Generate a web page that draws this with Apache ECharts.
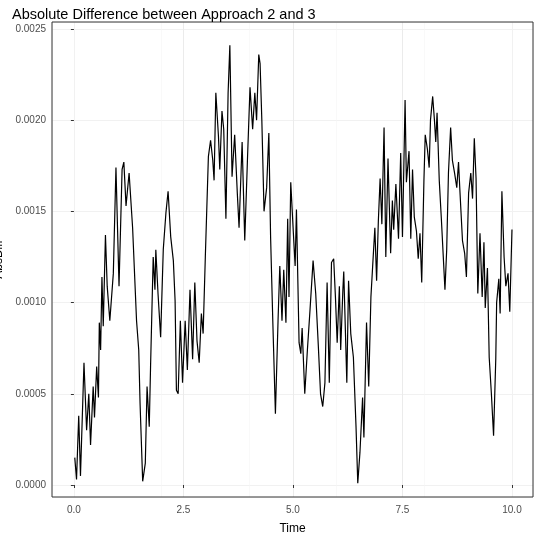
<!DOCTYPE html>
<html><head><meta charset="utf-8">
<script src="https://cdn.jsdelivr.net/npm/echarts@6/dist/echarts.min.js"></script>
<style>html,body{margin:0;padding:0;background:#fff}#c{width:540px;height:536px}</style>
</head><body><div id="c"></div>
<script>
const times = [0.02,0.06,0.11,0.15,0.23,0.29,0.34,0.38,0.44,0.47,0.52,0.56,0.58,0.61,0.64,0.67,0.72,0.76,0.82,0.9,0.96,1.03,1.1,1.14,1.19,1.26,1.34,1.43,1.48,1.51,1.57,1.63,1.67,1.72,1.75,1.81,1.85,1.87,1.92,1.98,2.04,2.1,2.15,2.21,2.27,2.31,2.34,2.38,2.43,2.48,2.54,2.59,2.65,2.71,2.76,2.81,2.86,2.91,2.95,3.0,3.07,3.12,3.17,3.2,3.24,3.3,3.33,3.38,3.42,3.47,3.52,3.56,3.61,3.67,3.73,3.77,3.84,3.9,3.96,4.02,4.08,4.13,4.17,4.22,4.25,4.29,4.34,4.4,4.45,4.49,4.54,4.6,4.66,4.7,4.75,4.79,4.84,4.88,4.91,4.95,5.01,5.05,5.08,5.14,5.18,5.21,5.27,5.33,5.39,5.46,5.52,5.58,5.63,5.68,5.73,5.78,5.83,5.88,5.93,5.97,6.01,6.06,6.09,6.14,6.16,6.23,6.27,6.32,6.38,6.44,6.48,6.53,6.59,6.62,6.68,6.73,6.78,6.82,6.87,6.91,6.95,6.99,7.03,7.08,7.12,7.17,7.23,7.27,7.3,7.35,7.41,7.46,7.5,7.53,7.56,7.59,7.65,7.69,7.73,7.77,7.82,7.86,7.9,7.94,7.99,8.02,8.07,8.11,8.14,8.19,8.23,8.26,8.29,8.34,8.39,8.43,8.47,8.51,8.55,8.6,8.64,8.69,8.74,8.78,8.81,8.87,8.92,8.96,9.01,9.06,9.1,9.14,9.18,9.22,9.27,9.32,9.36,9.39,9.44,9.48,9.53,9.58,9.63,9.65,9.7,9.73,9.77,9.82,9.86,9.91,9.95,10.0];
const absDiff = [0.00015,0.00003,0.00038,0.00005,0.00067,0.0003,0.0005,0.00022,0.00054,0.00037,0.00065,0.00048,0.00089,0.00074,0.00114,0.00087,0.00137,0.00109,0.0009,0.00116,0.00174,0.00109,0.00173,0.00177,0.00153,0.00171,0.00141,0.0009,0.00074,0.00045,0.00002,0.00012,0.00054,0.00032,0.00065,0.00125,0.00107,0.00129,0.00105,0.00081,0.00129,0.00149,0.00161,0.00136,0.00123,0.00101,0.00052,0.0005,0.0009,0.00056,0.0009,0.00063,0.00107,0.00069,0.00111,0.00079,0.00067,0.00094,0.00083,0.00125,0.0018,0.00189,0.00178,0.00167,0.00215,0.00191,0.00173,0.00205,0.00195,0.00146,0.00215,0.00241,0.00169,0.00192,0.0016,0.00141,0.00188,0.00134,0.00177,0.00218,0.00195,0.00215,0.002,0.00236,0.00231,0.002,0.0015,0.00163,0.00193,0.00136,0.0009,0.00039,0.0009,0.0012,0.0009,0.00118,0.00089,0.00146,0.00103,0.00166,0.00138,0.0012,0.00151,0.00078,0.00072,0.00086,0.0005,0.00074,0.00096,0.00123,0.00105,0.00076,0.0005,0.00043,0.00056,0.00111,0.00056,0.00122,0.00124,0.00103,0.00078,0.00109,0.00074,0.00107,0.00117,0.00056,0.00112,0.00083,0.0007,0.00032,0.00001,0.00018,0.00048,0.00026,0.00089,0.00054,0.00103,0.0012,0.00141,0.00112,0.00145,0.00168,0.00143,0.00196,0.00125,0.00179,0.00127,0.00156,0.0014,0.00165,0.00135,0.00182,0.00136,0.00173,0.00211,0.00166,0.00183,0.00135,0.00173,0.00147,0.00139,0.00124,0.00138,0.00111,0.00167,0.00192,0.00184,0.00174,0.002,0.00213,0.002,0.00188,0.00204,0.00167,0.00145,0.00126,0.00107,0.00129,0.00171,0.00196,0.00178,0.00171,0.00163,0.00177,0.00162,0.00134,0.00127,0.00114,0.0016,0.00171,0.00157,0.0019,0.00168,0.00105,0.00138,0.00103,0.00133,0.00097,0.00119,0.0007,0.0005,0.00027,0.00069,0.001,0.00113,0.00094,0.00161,0.00125,0.00109,0.00116,0.00095,0.0014];
const xTicks = [0, 2.5, 5, 7.5, 10];
const xMinor = [1.25, 3.75, 6.25, 8.75];
const yTicks = [0, 0.0005, 0.001, 0.0015, 0.002, 0.0025];
const yMinor = [0.00025, 0.00075, 0.00125, 0.00175, 0.00225];

const chart = echarts.init(document.getElementById('c'));
const lab = {color:'#4d4d4d', fontSize:10, fontFamily:'Liberation Sans'};
const grid = {left:52, right:7, top:22, bottom:39, containLabel:false, outerBoundsMode:'none'};
const xr = {min:-0.5, max:10.48}, yr = {min:-0.0000658, max:0.002538};
chart.setOption({
  animation:false,
  title:{text:'Absolute Difference between Approach 2 and 3', left:7, top:2,
    textStyle:{fontSize:14.5, fontWeight:'normal', color:'#000', fontFamily:'Liberation Sans'}},
  grid: grid,
  xAxis:[
    {type:'value', ...xr, name:'Time', nameLocation:'middle', nameGap:26,
     nameTextStyle:{fontSize:12, color:'#000', fontFamily:'Liberation Sans'},
     axisLine:{show:false}, axisTick:{show:true, customValues:xTicks, length:3, lineStyle:{color:'#333'}},
     axisLabel:{...lab, customValues:xTicks, margin:8, formatter:v=>v.toFixed(1)},
     splitLine:{show:true, lineStyle:{color:'#ebebeb', width:1}}},
    {type:'value', ...xr, position:'bottom', axisLine:{show:false}, axisTick:{show:false},
     axisLabel:{show:false, customValues:xMinor}, splitLine:{show:true, lineStyle:{color:'#f5f5f5', width:0.6}}}
  ],
  yAxis:[
    {type:'value', ...yr, name:'AbsDiff', nameLocation:'middle', nameGap:42,
     nameTextStyle:{fontSize:12, color:'#000', fontFamily:'Liberation Sans'},
     axisLine:{show:false}, axisTick:{show:true, customValues:yTicks, length:3, lineStyle:{color:'#333'}},
     axisLabel:{...lab, customValues:yTicks, margin:6, formatter:v=>v.toFixed(4)},
     splitLine:{show:true, lineStyle:{color:'#ebebeb', width:1}}},
    {type:'value', ...yr, axisLine:{show:false}, axisTick:{show:false},
     axisLabel:{show:false, customValues:yMinor}, splitLine:{show:true, lineStyle:{color:'#f5f5f5', width:0.6}}}
  ],
  series:[
    {type:'line', data:times.map((t,i)=>[t, absDiff[i]]), showSymbol:false, symbol:'none',
     lineStyle:{color:'#000', width:1.2}, z:5},
    {type:'line', data:[], markArea:{silent:true, itemStyle:{color:'rgba(0,0,0,0)', borderColor:'#333', borderWidth:1},
      data:[[{coord:[xr.min, yr.min]},{coord:[xr.max, yr.max]}]]}}
  ]
});
</script></body></html>
